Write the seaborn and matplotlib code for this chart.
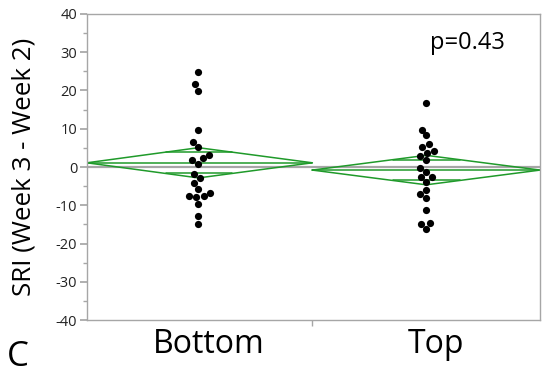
import numpy as np
import pandas as pd
import matplotlib
matplotlib.use("Agg")
import matplotlib.pyplot as plt
import matplotlib.transforms as mtransforms
import seaborn as sns

# values
groups = ["Bottom", "Top"]
bottom_sri = [24.8, 21.6, 19.9, 9.8, 6.5, 5.1, 3.2, 1.9, 2.4, 0.8, -1.8,
              -3.0, -4.2, -5.7, -6.8, -7.7, -7.8, -7.6, -9.6, -12.8, -14.8]
top_sri = [16.6, 9.8, 8.3, 5.9, 5.2, 4.1, 3.7, 2.8, 1.75, -0.2, -1.3,
           -2.6, -2.6, -3.9, -6.1, -7.0, -8.0, -11.3, -15.0, -14.6, -16.3]
group_means = [1.1, -0.8]
ci_half = [3.95, 3.85]
p_label = "p=0.43"
panel_label = "C"

GREEN = "#1f9a2a"
GRAY = "#a6a6a6"

sns.set_theme(style="white")
plt.rcParams["font.family"] = ["Open Sans", "DejaVu Sans"]
plt.rcParams["axes.unicode_minus"] = False

df = pd.DataFrame({
    "group": ["Bottom"] * len(bottom_sri) + ["Top"] * len(top_sri),
    "sri": bottom_sri + top_sri,
})

fig = plt.figure(figsize=(5.5, 3.77), dpi=100)
ax = fig.add_axes([0.158, 0.151, 0.824, 0.812])

# zero reference line
ax.axhline(0, color=GRAY, lw=1.6, zorder=1)

# means diamonds: each spans its own half of the axis
edges = [(-0.49, 0.5), (0.5, 1.5)]
for i, (m, hw) in enumerate(zip(group_means, ci_half)):
    left, right = edges[i]
    xs = [left, i, right, i, left]
    ys = [m, m + hw, m, m - hw, m]
    ax.plot(xs, ys, color=GREEN, lw=1.1, zorder=2)
    ax.plot([left, right], [m, m], color=GREEN, lw=1.1, zorder=2)
    # overlap marks
    d = hw / np.sqrt(2)
    frac = 1 - d / hw
    for s in (1, -1):
        ax.plot([i - (i - left) * frac, i + (right - i) * frac],
                [m + s * d, m + s * d], color=GREEN, lw=1.1, zorder=2)

sns.swarmplot(data=df, x="group", y="sri", order=groups, color="black",
              size=5.2, ax=ax, zorder=3)

ax.set_xlim(-0.49, 1.5)
ax.set_ylim(-40, 40)
ax.set_yticks(np.arange(-40, 41, 10))
ax.set_yticks(np.arange(-35, 40, 10), minor=True)
ax.set_xticks([0, 1])
ax.set_xticklabels(groups, fontsize=23, color="black")
ax.set_xticks([0.5], minor=True)
ax.tick_params(axis="x", which="major", length=0, pad=6)
ax.tick_params(axis="x", which="minor", length=4, color=GRAY, direction="out", bottom=True)
ax.tick_params(axis="y", which="major", length=5, color=GRAY, direction="out",
               left=True, labelsize=10.5, labelcolor="#222222", pad=2)
ax.tick_params(axis="y", which="minor", length=3, color=GRAY, direction="out", left=True)
offset = mtransforms.ScaledTranslation(10 / 100, 0, fig.dpi_scale_trans)
for lab in ax.get_xticklabels():
    lab.set_transform(lab.get_transform() + offset)

for sp in ax.spines.values():
    sp.set_color(GRAY)
    sp.set_linewidth(1.0)

ax.set_xlabel("")
ax.set_ylabel("SRI (Week 3 - Week 2)", fontsize=18.7, color="black")
ax.yaxis.set_label_coords(-0.112, 0.5)
ax.text(1.18, 32.5, p_label, fontsize=17, ha="center", va="center", color="black")
fig.text(0.012, 0.052, panel_label, fontsize=25, ha="left", va="center", color="black")

fig.savefig("out.png", dpi=100)
